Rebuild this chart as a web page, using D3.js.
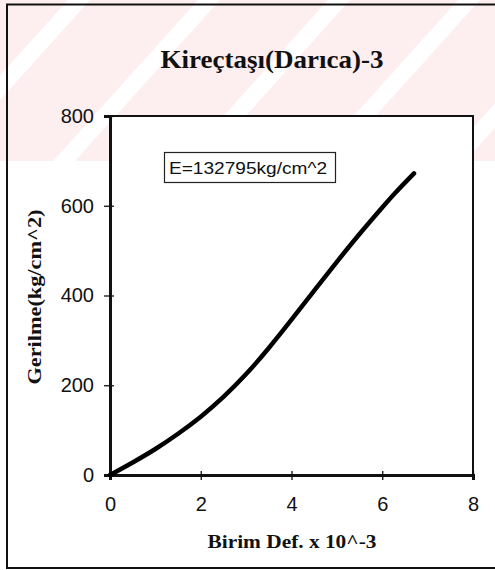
<!DOCTYPE html>
<html><head><meta charset="utf-8">
<script src="https://cdn.jsdelivr.net/npm/d3@7"></script>
<style>html,body{margin:0;padding:0;background:#fff;}svg{display:block;}</style>
</head><body>
<svg id="chart" width="495" height="570"></svg>
<script>
// Data
const strain = [0, 0.5, 1, 1.5, 2, 2.5, 3, 3.5, 4, 4.5, 5, 5.5, 6, 6.3, 6.7];
const stress = [0, 28, 58, 92, 130, 174, 225, 283, 346, 411, 475, 537, 596, 630, 672];
const xTicks = [0, 2, 4, 6, 8];
const yTicks = [0, 200, 400, 600, 800];
const titleText = "Kireçtaşı(Darıca)-3";
const xTitle = "Birim Def. x 10^-3";
const yTitle = "Gerilme(kg/cm^2)";
const annotation = "E=132795kg/cm^2";

const svg = d3.select("#chart");
const W = 495, H = 570;
const m = {left: 110, top: 116, right: 473, bottom: 475};

// watermark stripes
const defs = svg.append("defs");
defs.append("clipPath").attr("id", "wmclip").append("rect")
  .attr("x", 0).attr("y", 0).attr("width", W).attr("height", 161);
const wm = svg.append("g").attr("clip-path", "url(#wmclip)");
wm.append("rect").attr("x", 0).attr("y", 0).attr("width", W).attr("height", 161).attr("fill", "#fdeef0");
const stripeCenters = d3.range(-181, 800, 130);
wm.selectAll("path.ws").data(stripeCenters).enter().append("path")
  .attr("fill", "#ffffff")
  .attr("d", c => {
    const w = 11, s = 0.9, y0 = -5, y1 = 170;
    return `M${c - w - s*y0},${y0} L${c + w - s*y0},${y0} L${c + w - s*y1},${y1} L${c - w - s*y1},${y1} Z`;
  });

// outer frame
svg.append("rect").attr("x", 7).attr("y", 4.5).attr("width", 500).attr("height", 563.5)
  .attr("fill", "none").attr("stroke", "#111").attr("stroke-width", 2);

const x = d3.scaleLinear().domain([0, 8]).range([m.left, m.right]);
const y = d3.scaleLinear().domain([0, 800]).range([m.bottom, m.top]);

// plot area background
svg.append("rect").attr("x", m.left).attr("y", m.top).attr("width", m.right - m.left).attr("height", m.bottom - m.top)
  .attr("fill", "#fff").attr("stroke", "#111").attr("stroke-width", 2);

// axes
const xAxis = d3.axisBottom(x).tickValues(xTicks).tickSize(5).tickPadding(17).tickFormat(d3.format("d"));
const gx = svg.append("g").attr("transform", `translate(0,${m.bottom})`).call(xAxis);
gx.select(".domain").attr("stroke", "#111").attr("stroke-width", 3);
gx.selectAll(".tick line").attr("stroke", "#111").attr("stroke-width", 1.3).attr("y1", -4);
gx.selectAll(".tick text").attr("font-family", "Liberation Sans, Arial, sans-serif").attr("font-size", 20).attr("fill", "#111");

const yAxis = d3.axisLeft(y).tickValues(yTicks).tickSize(6).tickPadding(10).tickFormat(d3.format("d"));
const gy = svg.append("g").attr("transform", `translate(${m.left},0)`).call(yAxis);
gy.select(".domain").attr("stroke", "#111").attr("stroke-width", 3);
gy.selectAll(".tick line").attr("stroke", "#111").attr("stroke-width", 1.3).attr("x1", 4);
gy.selectAll(".tick text").attr("font-family", "Liberation Sans, Arial, sans-serif").attr("font-size", 20).attr("fill", "#111");

// curve
const pts = strain.map((s, i) => [s, stress[i]]);
svg.append("path").datum(pts)
  .attr("fill", "none").attr("stroke", "#000").attr("stroke-width", 4.5).attr("stroke-linecap", "round")
  .attr("d", d3.line().x(d => x(d[0])).y(d => y(d[1])).curve(d3.curveNatural));

// annotation box
const ag = svg.append("g");
ag.append("rect").attr("x", 164.5).attr("y", 152.5).attr("width", 171).attr("height", 30)
  .attr("fill", "#fff").attr("stroke", "#222").attr("stroke-width", 1.2);
ag.append("text").attr("x", 169).attr("y", 174).attr("font-family", "Liberation Sans, Arial, sans-serif")
  .attr("font-size", 16).attr("textLength", 158).attr("lengthAdjust", "spacingAndGlyphs").attr("fill", "#111").text(annotation);

// titles
svg.append("text").attr("x", 272).attr("y", 68).attr("text-anchor", "middle")
  .attr("font-family", "Liberation Serif, Times New Roman, serif").attr("font-weight", "bold")
  .attr("font-size", 26).attr("textLength", 223).attr("lengthAdjust", "spacingAndGlyphs").attr("fill", "#111").text(titleText);
svg.append("text").attr("x", 292).attr("y", 548).attr("text-anchor", "middle")
  .attr("font-family", "Liberation Serif, Times New Roman, serif").attr("font-weight", "bold")
  .attr("font-size", 19).attr("textLength", 169).attr("lengthAdjust", "spacingAndGlyphs").attr("fill", "#111").text(xTitle);
svg.append("text").attr("transform", "translate(41,297) rotate(-90)").attr("text-anchor", "middle")
  .attr("font-family", "Liberation Serif, Times New Roman, serif").attr("font-weight", "bold")
  .attr("font-size", 19).attr("textLength", 175).attr("lengthAdjust", "spacingAndGlyphs").attr("fill", "#111").text(yTitle);
</script>
</body></html>
